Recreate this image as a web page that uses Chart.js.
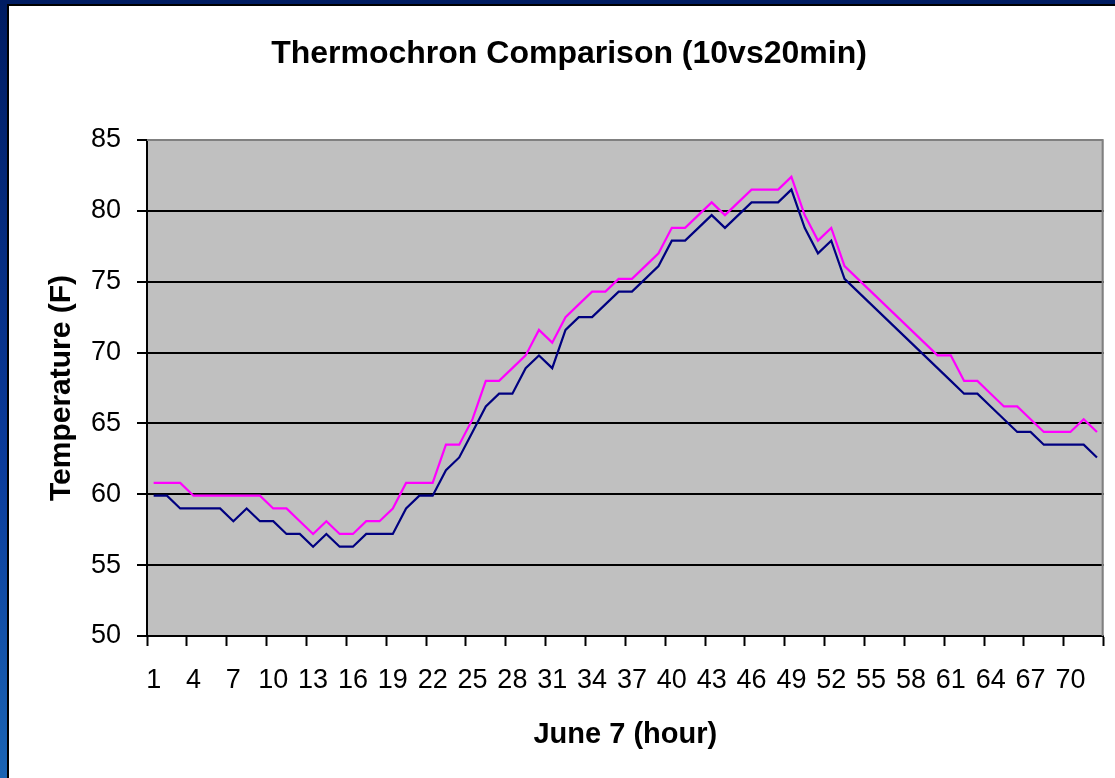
<!DOCTYPE html>
<html><head><meta charset="utf-8">
<script src="https://cdn.jsdelivr.net/npm/chart.js@4.4.1/dist/chart.umd.min.js"></script>
<style>
html,body{margin:0;padding:0;width:1115px;height:778px;overflow:hidden;}
body{background:linear-gradient(to bottom,#001c62 0%,#0b3c9c 60%,#1a64b4 100%);position:relative;}
#panel{position:absolute;left:7px;top:4px;width:1120px;height:800px;border:2px solid #000;background:#fff;}
#c{position:absolute;left:9px;top:6px;}
</style></head><body>
<div id="panel"></div>
<canvas id="c" width="1106" height="772"></canvas>
<script>
const hours = [1,2,3,4,5,6,7,8,9,10,11,12,13,14,15,16,17,18,19,20,21,22,23,24,25,26,27,28,29,30,31,32,33,34,35,36,
  37,38,39,40,41,42,43,44,45,46,47,48,49,50,51,52,53,54,55,56,57,58,59,60,61,62,63,64,65,66,67,68,69,70,71,72];
const magentaSeries = [60.8,60.8,60.8,59.9,59.9,59.9,59.9,59.9,59.9,59.0,59.0,58.1,57.2,58.1,57.2,57.2,58.1,58.1,
  59.0,60.8,60.8,60.8,63.5,63.5,65.3,68.0,68.0,68.9,69.8,71.6,70.7,72.5,73.4,74.3,74.3,75.2,75.2,76.1,77.0,78.8,
  78.8,79.7,80.6,79.7,80.6,81.5,81.5,81.5,82.4,79.7,77.9,78.8,76.1,75.2,74.3,73.4,72.5,71.6,70.7,69.8,69.8,68.0,
  68.0,67.1,66.2,66.2,65.3,64.4,64.4,64.4,65.3,64.4];
const navySeries = [59.9,59.9,59.0,59.0,59.0,59.0,58.1,59.0,58.1,58.1,57.2,57.2,56.3,57.2,56.3,56.3,57.2,57.2,
  57.2,59.0,59.9,59.9,61.7,62.6,64.4,66.2,67.1,67.1,68.9,69.8,68.9,71.6,72.5,72.5,73.4,74.3,74.3,75.2,76.1,77.9,
  77.9,78.8,79.7,78.8,79.7,80.6,80.6,80.6,81.5,78.8,77.0,77.9,75.2,74.3,73.4,72.5,71.6,70.7,69.8,68.9,68.0,67.1,
  67.1,66.2,65.3,64.4,64.4,63.5,63.5,63.5,63.5,62.6];
const yMin = 50, yMax = 85, yStep = 5;
const labelEvery = 3;
const titleText = 'Thermochron Comparison (10vs20min)';
const xTitleText = 'June 7 (hour)';
const yTitleText = 'Temperature (F)';
const FONT = "'Liberation Sans', Arial, sans-serif";

const plotBg = {
  id: 'plotBg',
  beforeDraw(chart) {
    const {ctx, chartArea: a} = chart;
    ctx.save();
    ctx.fillStyle = '#c0c0c0';
    ctx.fillRect(a.left, a.top, a.right - a.left, a.bottom - a.top);
    ctx.restore();
  },
  beforeDatasetsDraw(chart) {
    const {ctx, chartArea: a} = chart;
    ctx.save();
    ctx.strokeStyle = '#808080';
    ctx.lineWidth = 2;
    ctx.beginPath();
    ctx.moveTo(a.left, a.top);
    ctx.lineTo(a.right - 1, a.top);
    ctx.lineTo(a.right - 1, a.bottom);
    ctx.stroke();
    ctx.restore();
  }
};

new Chart(document.getElementById('c'), {
  type: 'line',
  data: {
    labels: hours,
    datasets: [
      {data: magentaSeries, borderColor: '#ff00ff', borderWidth: 2.2, pointRadius: 0, tension: 0, fill: false},
      {data: navySeries, borderColor: '#000080', borderWidth: 2.2, pointRadius: 0, tension: 0, fill: false}
    ]
  },
  options: {
    responsive: false,
    animation: false,
    devicePixelRatio: 1,
    layout: {padding: {top: 0, left: 17, right: 3, bottom: 0}},
    plugins: {
      legend: {display: false},
      tooltip: {enabled: false},
      title: {
        display: true, text: titleText, color: '#000',
        font: {family: FONT, size: 32, weight: 'bold'},
        padding: {top: 28.5, bottom: 67.1}
      }
    },
    scales: {
      x: {
        type: 'category',
        offset: true,
        grid: {
          offset: true, drawOnChartArea: false, drawTicks: true, tickLength: 10, tickWidth: 2,
          tickColor: (ctx) => (ctx.index === undefined || ctx.index % labelEvery === 0) ? '#000' : 'rgba(0,0,0,0)'
        },
        border: {display: true, color: '#000', width: 2},
        ticks: {
          autoSkip: false, maxRotation: 0, minRotation: 0, padding: 18, color: '#000',
          font: {family: FONT, size: 27},
          callback: function(v, i) { return i % labelEvery === 0 ? String(this.getLabelForValue(v)) : ''; }
        },
        title: {
          display: true, text: xTitleText, color: '#000',
          font: {family: FONT, size: 29, weight: 'bold'},
          padding: {top: 0, bottom: 26}
        },
        afterFit(s) { s.height = 142; }
      },
      y: {
        min: yMin, max: yMax,
        grid: {
          color: (ctx) => (ctx.tick && ctx.tick.value === yMax) ? 'rgba(0,0,0,0)' : '#000',
          lineWidth: 2, drawTicks: true, tickLength: 10, tickColor: '#000', tickWidth: 2
        },
        border: {display: true, color: '#000', width: 2},
        ticks: {stepSize: yStep, padding: 16, color: '#000', font: {family: FONT, size: 27}},
        title: {
          display: true, text: yTitleText, color: '#000',
          font: {family: FONT, size: 30, weight: 'bold'},
          padding: {top: 18, bottom: 0}
        },
        afterFit(s) { s.width = 121; }
      }
    }
  },
  plugins: [plotBg]
});
</script>
</body></html>
